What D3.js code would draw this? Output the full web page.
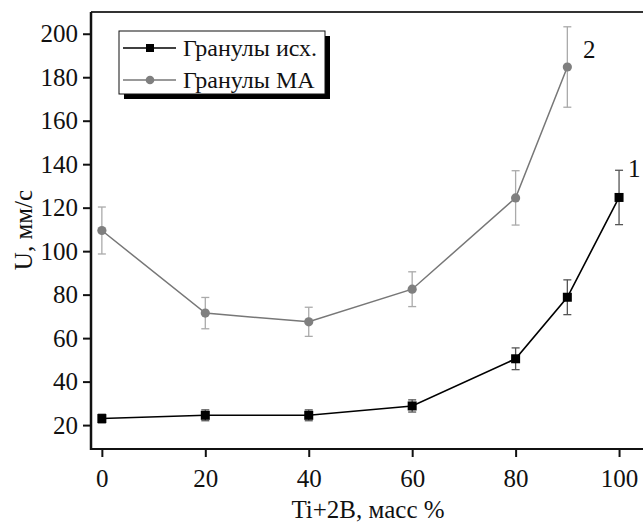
<!DOCTYPE html>
<html lang="ru">
  <head>
    <meta charset="UTF-8" />
    <title>U vs Ti+2B</title>
    <style>
      body { margin: 0; background: #fff; }
    </style>
  </head>
  <body>
    <div id="wrapper"></div>
    <script src="https://d3js.org/d3.v7.min.js"></script>
    <script>
      // data
      const xTicks = [0, 20, 40, 60, 80, 100];
      const yTicks = [20, 40, 60, 80, 100, 120, 140, 160, 180, 200];

      const xIsh = [0, 20, 40, 60, 80, 90, 100];
      const uIsh = [23, 24.5, 24.5, 28.8, 50.5, 78.8, 124.7];
      const errIsh = [2, 2.5, 2.5, 2.8, 5, 8, 12.5];

      const xMA = [0, 20, 40, 60, 80, 90];
      const uMA = [109.5, 71.5, 67.5, 82.5, 124.5, 184.7];
      const errMA = [10.8, 7.2, 6.7, 8, 12.5, 18.5];

      const names = ["Гранулы исх.", "Гранулы МА"];

      const W = 643, H = 525;
      const FONT = "'Liberation Serif', 'DejaVu Serif', 'Times New Roman', serif";
      const fs = 25;

      const svg = d3.select("#wrapper").append("svg")
        .attr("width", W).attr("height", H)
        .attr("font-family", FONT);

      const x = d3.scaleLinear().domain([-2.1, 105.5]).range([91, 647.5]);
      const y = d3.scaleLinear().domain([9, 210]).range([449, 12]);

      // frame top
      svg.append("line").attr("x1", x(-2.1)).attr("x2", W + 10)
        .attr("y1", y(210)).attr("y2", y(210))
        .attr("stroke", "#333").attr("stroke-width", 1.8);

      const xAxis = svg.append("g")
        .attr("transform", `translate(0,${y(9)})`)
        .call(d3.axisBottom(x).tickValues(xTicks).tickSize(8).tickSizeOuter(0).tickPadding(12));
      const yAxis = svg.append("g")
        .attr("transform", `translate(${x(-2.1)},0)`)
        .call(d3.axisLeft(y).tickValues(yTicks).tickSize(8).tickSizeOuter(0).tickPadding(5));

      [xAxis, yAxis].forEach(g => {
        g.attr("font-family", FONT).attr("font-size", fs);
        g.select(".domain").remove();
        g.selectAll(".tick line").attr("stroke", "#111").attr("stroke-width", 2);
        g.selectAll(".tick text").attr("fill", "#111");
      });

      svg.append("line").attr("x1", x(-2.1)).attr("x2", W + 10)
        .attr("y1", y(9)).attr("y2", y(9))
        .attr("stroke", "#111").attr("stroke-width", 2.2);
      svg.append("line").attr("x1", x(-2.1)).attr("x2", x(-2.1))
        .attr("y1", y(210)).attr("y2", y(9) + 1)
        .attr("stroke", "#111").attr("stroke-width", 2.5);

      // axis titles
      svg.append("text")
        .attr("x", 368).attr("y", 518)
        .attr("text-anchor", "middle").attr("font-size", fs).attr("fill", "#111")
        .text("Ti+2B, масс %");
      svg.append("text")
        .attr("transform", "translate(32,230) rotate(-90)")
        .attr("text-anchor", "middle").attr("font-size", fs).attr("fill", "#111")
        .text("U, мм/с");

      const line = d3.line().x(d => x(d[0])).y(d => y(d[1]));

      function drawSeries(xs, us, es, opt) {
        const pts = xs.map((v, i) => [v, us[i], es[i]]);
        const g = svg.append("g");
        const eb = g.selectAll(".eb").data(pts).join("g").attr("stroke", opt.err).attr("stroke-width", 1.3);
        eb.append("line").attr("x1", d => x(d[0])).attr("x2", d => x(d[0]))
          .attr("y1", d => y(d[1] - d[2])).attr("y2", d => y(d[1] + d[2]));
        eb.append("line").attr("x1", d => x(d[0]) - 4).attr("x2", d => x(d[0]) + 4)
          .attr("y1", d => y(d[1] - d[2])).attr("y2", d => y(d[1] - d[2]));
        eb.append("line").attr("x1", d => x(d[0]) - 4).attr("x2", d => x(d[0]) + 4)
          .attr("y1", d => y(d[1] + d[2])).attr("y2", d => y(d[1] + d[2]));
        g.append("path").datum(pts).attr("d", line)
          .attr("fill", "none").attr("stroke", opt.line).attr("stroke-width", opt.lw);
        if (opt.shape === "square") {
          g.selectAll(".m").data(pts).join("rect")
            .attr("x", d => x(d[0]) - 4.5).attr("y", d => y(d[1]) - 4.5)
            .attr("width", 9).attr("height", 9).attr("fill", opt.marker);
        } else {
          g.selectAll(".m").data(pts).join("circle")
            .attr("cx", d => x(d[0])).attr("cy", d => y(d[1]))
            .attr("r", 4.6).attr("fill", opt.marker);
        }
      }

      drawSeries(xMA, uMA, errMA, { line: "#777", lw: 1.5, err: "#aaa", marker: "#7f7f7f", shape: "circle" });
      drawSeries(xIsh, uIsh, errIsh, { line: "#000", lw: 1.6, err: "#555", marker: "#000", shape: "square" });

      // curve numbers
      svg.append("text").attr("x", 628).attr("y", 177).attr("font-size", fs).attr("fill", "#111").text("1");
      svg.append("text").attr("x", 583).attr("y", 58).attr("font-size", fs).attr("fill", "#111").text("2");

      // legend with shadow
      const lg = svg.append("g");
      lg.append("rect").attr("x", 124).attr("y", 36).attr("width", 206).attr("height", 63).attr("fill", "#000");
      lg.append("rect").attr("x", 119).attr("y", 31).attr("width", 206).attr("height", 63)
        .attr("fill", "#fff").attr("stroke", "#111").attr("stroke-width", 1);
      const rows = [
        { name: names[0], yy: 48, line: "#000", marker: "#000", shape: "square" },
        { name: names[1], yy: 80, line: "#777", marker: "#7f7f7f", shape: "circle" }
      ];
      rows.forEach(r => {
        lg.append("line").attr("x1", 123).attr("x2", 176).attr("y1", r.yy).attr("y2", r.yy)
          .attr("stroke", r.line).attr("stroke-width", 1.5);
        if (r.shape === "square") {
          lg.append("rect").attr("x", 146).attr("y", r.yy - 4).attr("width", 8).attr("height", 8).attr("fill", r.marker);
        } else {
          lg.append("circle").attr("cx", 150).attr("cy", r.yy).attr("r", 4.3).attr("fill", r.marker);
        }
        lg.append("text").attr("x", 183).attr("y", r.yy + 8).attr("font-size", 24).attr("fill", "#111").text(r.name);
      });
    </script>
  </body>
</html>
